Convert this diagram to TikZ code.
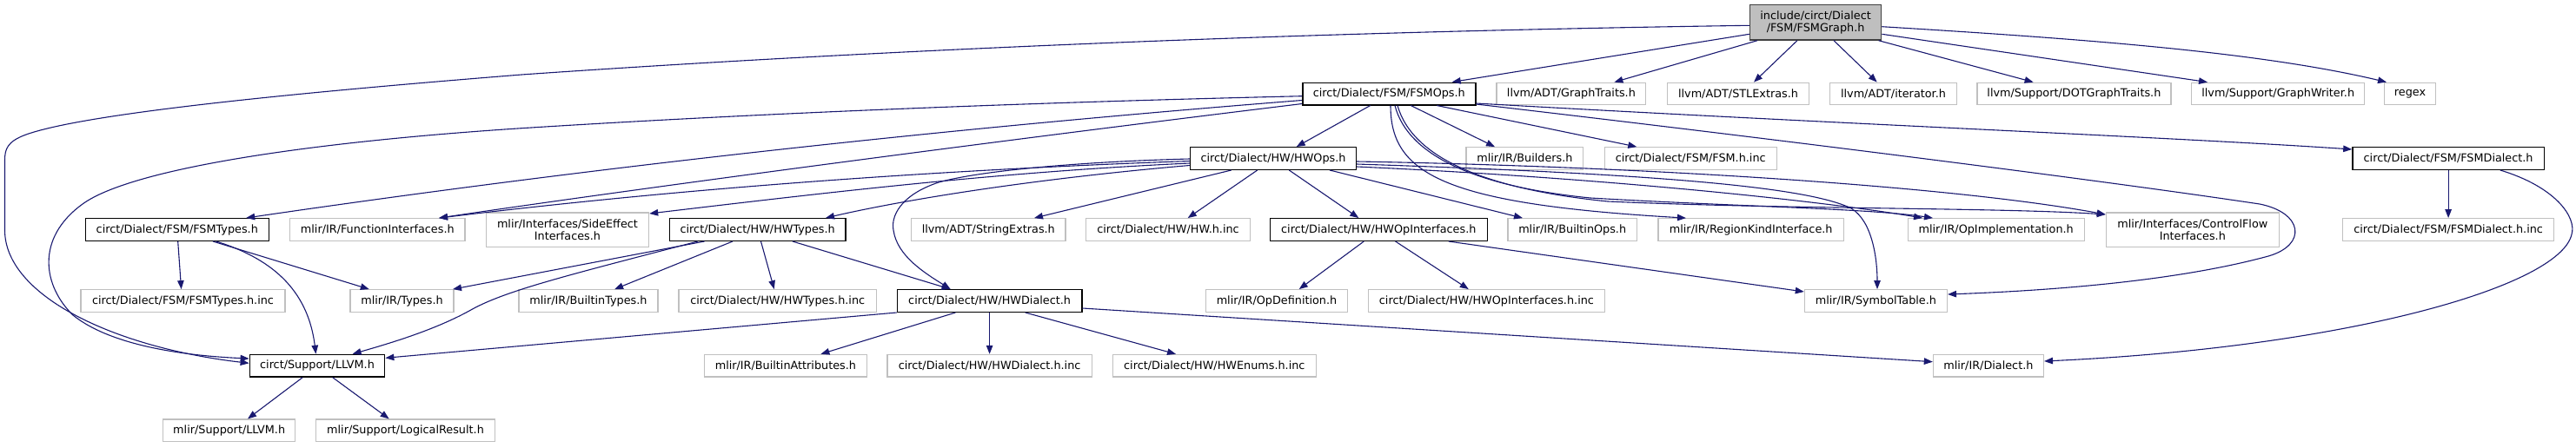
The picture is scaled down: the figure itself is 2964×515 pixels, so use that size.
\documentclass[tikz,border=0pt]{standalone}
\usepackage{fontspec}
\setmainfont{DejaVu Sans}
\usetikzlibrary{arrows.meta}
\definecolor{edgec}{HTML}{191970}
\definecolor{grayb}{HTML}{C0C0C0}
\definecolor{rootfill}{HTML}{BFBFBF}
\definecolor{rootdraw}{HTML}{404040}
\begin{document}
\begin{tikzpicture}[x=1pt,y=-1pt,
  gbox/.style={draw=grayb, fill=white, line width=1.2pt, rectangle, inner sep=0pt,
    minimum height=25.6pt, align=center, font=\fontsize{12.8pt}{14.5pt}\selectfont},
  bbox/.style={gbox, draw=black, line width=1.4pt},
  tbox/.style={gbox, minimum height=39.3pt},
  rootbox/.style={gbox, fill=rootfill, draw=rootdraw, line width=1.4pt, minimum height=40.3pt},
  dep/.style={draw=edgec, line width=1.1pt, -{Triangle[length=10pt,width=7.5pt]}}]
\useasboundingbox (0,0) rectangle (2964,515);
% nodes
\node[rootbox, minimum width=151.2pt] (root) at (2089.1,25.85) {include/circt/Dialect\\/FSM/FSMGraph.h};
\node[bbox, minimum width=199pt] (fsmops) at (1598.3,108) {circt/Dialect/FSM/FSMOps.h};
\node[gbox, minimum width=171.8pt] (graphtraits) at (1807.9,108) {llvm/ADT/GraphTraits.h};
\node[gbox, minimum width=162.7pt] (stlextras) at (2000,108) {llvm/ADT/STLExtras.h};
\node[gbox, minimum width=146.1pt] (iterator) at (2178.5,108) {llvm/ADT/iterator.h};
\node[gbox, minimum width=223pt] (dotgt) at (2386.4,108) {llvm/Support/DOTGraphTraits.h};
\node[gbox, minimum width=198.9pt] (graphwriter) at (2621.2,108) {llvm/Support/GraphWriter.h};
\node[gbox, minimum width=58.9pt] (regex) at (2773,108) {regex};
\node[bbox, minimum width=191pt] (hwops) at (1465,182.5) {circt/Dialect/HW/HWOps.h};
\node[gbox, minimum width=134.7pt] (builders) at (1754.4,182.5) {mlir/IR/Builders.h};
\node[gbox, minimum width=197.8pt] (fsminc) at (1945.2,182.5) {circt/Dialect/FSM/FSM.h.inc};
\node[bbox, minimum width=220.4pt] (fsmdialect) at (2817.1,182.5) {circt/Dialect/FSM/FSMDialect.h};
\node[bbox, minimum width=210.9pt] (fsmtypes) at (203.8,264.5) {circt/Dialect/FSM/FSMTypes.h};
\node[gbox, minimum width=201.3pt] (funcif) at (434.3,264.5) {mlir/IR/FunctionInterfaces.h};
\node[tbox, minimum width=187.2pt] (sideeffect) at (653,264.65) {mlir/Interfaces/SideEffect\\Interfaces.h};
\node[bbox, minimum width=202.8pt] (hwtypes) at (871.7,264.5) {circt/Dialect/HW/HWTypes.h};
\node[gbox, minimum width=177.5pt] (stringextras) at (1137.3,264.5) {llvm/ADT/StringExtras.h};
\node[gbox, minimum width=188.7pt] (hwinc) at (1344,264.5) {circt/Dialect/HW/HW.h.inc};
\node[bbox, minimum width=249.9pt] (hwopif) at (1586.3,264.5) {circt/Dialect/HW/HWOpInterfaces.h};
\node[gbox, minimum width=148.4pt] (builtinops) at (1809.2,264.5) {mlir/IR/BuiltinOps.h};
\node[gbox, minimum width=213.5pt] (regionkind) at (2014.7,264.5) {mlir/IR/RegionKindInterface.h};
\node[gbox, minimum width=202.8pt] (opimpl) at (2296.7,264.5) {mlir/IR/OpImplementation.h};
\node[tbox, minimum width=199pt] (controlflow) at (2522.8,264.65) {mlir/Interfaces/ControlFlow\\Interfaces.h};
\node[gbox, minimum width=243.4pt] (fsmdialectinc) at (2817.1,264.5) {circt/Dialect/FSM/FSMDialect.h.inc};
\node[gbox, minimum width=235pt] (fsmtypesinc) at (210.5,346.5) {circt/Dialect/FSM/FSMTypes.h.inc};
\node[gbox, minimum width=119pt] (types) at (462.5,346.5) {mlir/IR/Types.h};
\node[gbox, minimum width=160pt] (builtintypes) at (677,346.5) {mlir/IR/BuiltinTypes.h};
\node[gbox, minimum width=227.3pt] (hwtypesinc) at (894.7,346.5) {circt/Dialect/HW/HWTypes.h.inc};
\node[bbox, minimum width=212.4pt] (hwdialect) at (1138.6,346.5) {circt/Dialect/HW/HWDialect.h};
\node[gbox, minimum width=163pt] (opdef) at (1469,346.5) {mlir/IR/OpDefinition.h};
\node[gbox, minimum width=272.5pt] (hwopifinc) at (1710.4,346.5) {circt/Dialect/HW/HWOpInterfaces.h.inc};
\node[gbox, minimum width=164.1pt] (symtab) at (2158.4,346.5) {mlir/IR/SymbolTable.h};
\node[bbox, minimum width=155.4pt] (llvm) at (365,421.2) {circt/Support/LLVM.h};
\node[gbox, minimum width=186.7pt] (builtinattr) at (903.9,421.2) {mlir/IR/BuiltinAttributes.h};
\node[gbox, minimum width=235.4pt] (hwdialectinc) at (1138.6,421.2) {circt/Dialect/HW/HWDialect.h.inc};
\node[gbox, minimum width=233.8pt] (hwenums) at (1397.3,421.2) {circt/Dialect/HW/HWEnums.h.inc};
\node[gbox, minimum width=127pt] (dialect) at (2287.9,421.2) {mlir/IR/Dialect.h};
\node[gbox, minimum width=152.3pt] (mlirllvm) at (263.7,495.8) {mlir/Support/LLVM.h};
\node[gbox, minimum width=205.9pt] (logicalresult) at (466.5,495.8) {mlir/Support/LogicalResult.h};
% root edges
\draw[dep] (root.west |- 0,29.3) .. controls (1400,38) and (900,65) .. (600,86) .. controls (350,106) and (100,130) .. (30,155) .. controls (8,163) and (5.5,172) .. (5.5,185) -- (5.5,265) .. controls (5.5,340) and (130,400) .. (llvm.west |- 0,418.3);
\draw[dep] (root.west |- 0,39.3) -- (fsmops.north -| 1670.7,0);
\draw[dep] (root.south -| 2022,0) -- (graphtraits.north -| 1857.4,0);
\draw[dep] (root.south -| 2067.9,0) -- (stlextras.north -| 2018,0);
\draw[dep] (root.south -| 2110,0) -- (iterator.north -| 2159.7,0);
\draw[dep] (root.south -| 2161.6,0) -- (dotgt.north -| 2339.6,0);
\draw[dep] (root.east |- 0,39.3) -- (graphwriter.north -| 2540,0);
\draw[dep] (root.east |- 0,30.7) .. controls (2400,45) and (2600,60) .. (regex.north -| 2746,0);
% FSMOps edges
\draw[dep] (fsmops.west |- 0,110.7) .. controls (1100,120) and (800,135) .. (600,147.7) .. controls (350,164) and (150,195) .. (95,235) .. controls (40,275) and (50,330) .. (84,363) .. controls (130,400) and (220,410) .. (llvm.west |- 0,413);
\draw[dep] (fsmops.west |- 0,115.5) .. controls (1100,147) and (700,190) .. (fsmtypes.north -| 283.2,0);
\draw[dep] (fsmops.west |- 0,119.5) .. controls (1100,168) and (700,222) .. (funcif.north -| 505,0);
\draw[dep] (fsmops.south -| 1576.7,0) -- (hwops.north -| 1491.7,0);
\draw[dep] (fsmops.south -| 1623.3,0) -- (builders.north -| 1720,0);
\draw[dep] (fsmops.south -| 1653.3,0) -- (fsminc.north -| 1883.3,0);
\draw[dep] (fsmops.east |- 0,119) .. controls (2100,142) and (2500,158) .. (fsmdialect.west |- 0,172);
\draw[dep] (fsmops.east |- 0,120) .. controls (2000,155) and (2400,205) .. (2600,235) .. controls (2650,245) and (2655,282) .. (2610,295) .. controls (2500,325) and (2350,335) .. (symtab.east |- 0,339);
\draw[dep] (fsmops.south -| 1600,0) .. controls (1600,200) and (1660,235) .. (regionkind.north -| 1940,0);
\draw[dep] (fsmops.south -| 1605,0) .. controls (1620,180) and (1700,215) .. (1830,228) .. controls (2000,238) and (2150,240) .. (opimpl.north -| 2224,0);
\draw[dep] (fsmops.south -| 1608,0) .. controls (1625,182) and (1710,218) .. (1850,232) .. controls (2050,241) and (2300,239) .. (controlflow.west |- 0,247);
% HWOps edges
\draw[dep] (hwops.west |- 0,183) .. controls (1250,186) and (1130,196) .. (1080,210) .. controls (1035,225) and (1025,250) .. (1028,265) .. controls (1032,295) and (1065,315) .. (hwdialect.north -| 1093.6,0);
\draw[dep] (hwops.west |- 0,185.5) .. controls (1100,195) and (800,215) .. (funcif.north -| 505,0);
\draw[dep] (hwops.west |- 0,188) .. controls (1150,198) and (950,222) .. (sideeffect.east |- 0,246);
\draw[dep] (hwops.west |- 0,190.5) .. controls (1200,205) and (1050,228) .. (hwtypes.north -| 950,0);
\draw[dep] (hwops.south -| 1416.7,0) -- (stringextras.north -| 1190,0);
\draw[dep] (hwops.south -| 1446.7,0) -- (hwinc.north -| 1366.7,0);
\draw[dep] (hwops.south -| 1483.3,0) -- (hwopif.north -| 1563.3,0);
\draw[dep] (hwops.south -| 1530,0) -- (builtinops.north -| 1752,0);
\draw[dep] (hwops.east |- 0,186) .. controls (1900,192) and (2250,215) .. (controlflow.west |- 0,247);
\draw[dep] (hwops.east |- 0,189) .. controls (1900,200) and (2080,215) .. (2130,240) .. controls (2155,255) and (2160,300) .. (symtab.north -| 2160,0);
\draw[dep] (hwops.east |- 0,192) .. controls (1850,205) and (2100,232) .. (opimpl.north -| 2212,0);
% FSMTypes edges
\draw[dep] (fsmtypes.south -| 204.7,0) -- (fsmtypesinc.north -| 208.6,0);
\draw[dep] (fsmtypes.south -| 245,0) -- (types.north -| 424.8,0);
\draw[dep] (fsmtypes.south -| 248.7,0) .. controls (320,300) and (355,340) .. (llvm.north -| 363.5,0);
% HWTypes edges
\draw[dep] (hwtypes.south -| 810.5,0) -- (types.north -| 521,0);
\draw[dep] (hwtypes.south -| 802.8,0) .. controls (650,318) and (580,335) .. (540,358) .. controls (500,380) and (450,395) .. (llvm.north -| 405.6,0);
\draw[dep] (hwtypes.south -| 843,0) -- (builtintypes.north -| 707.1,0);
\draw[dep] (hwtypes.south -| 875.5,0) -- (hwtypesinc.north -| 890.8,0);
\draw[dep] (hwtypes.south -| 911.9,0) -- (hwdialect.north -| 1093.6,0);
% HWDialect edges
\draw[dep] (hwdialect.south west) -- (llvm.east |- 0,412.3);
\draw[dep] (hwdialect.south -| 1099.4,0) -- (builtinattr.north -| 944.4,0);
\draw[dep] (hwdialect.south) -- (hwdialectinc.north);
\draw[dep] (hwdialect.south -| 1179.7,0) -- (hwenums.north -| 1353,0);
\draw[dep] (hwdialect.east |- 0,355) -- (dialect.west |- 0,416.7);
% HWOpInterfaces edges
\draw[dep] (hwopif.south -| 1569.3,0) -- (opdef.north -| 1494.7,0);
\draw[dep] (hwopif.south -| 1605.6,0) -- (hwopifinc.north -| 1689.8,0);
\draw[dep] (hwopif.south -| 1666.8,0) -- (symtab.west |- 0,336);
% FSMDialect edges
\draw[dep] (fsmdialect.south) -- (fsmdialectinc.north);
\draw[dep] (fsmdialect.south -| 2876.8,0) .. controls (2940,215) and (2965,250) .. (2959,270) .. controls (2945,330) and (2700,400) .. (dialect.east |- 0,416);
% LLVM edges
\draw[dep] (llvm.south -| 348.2,0) -- (mlirllvm.north -| 285,0);
\draw[dep] (llvm.south -| 382.7,0) -- (logicalresult.north -| 447.7,0);
\end{tikzpicture}
\end{document}
